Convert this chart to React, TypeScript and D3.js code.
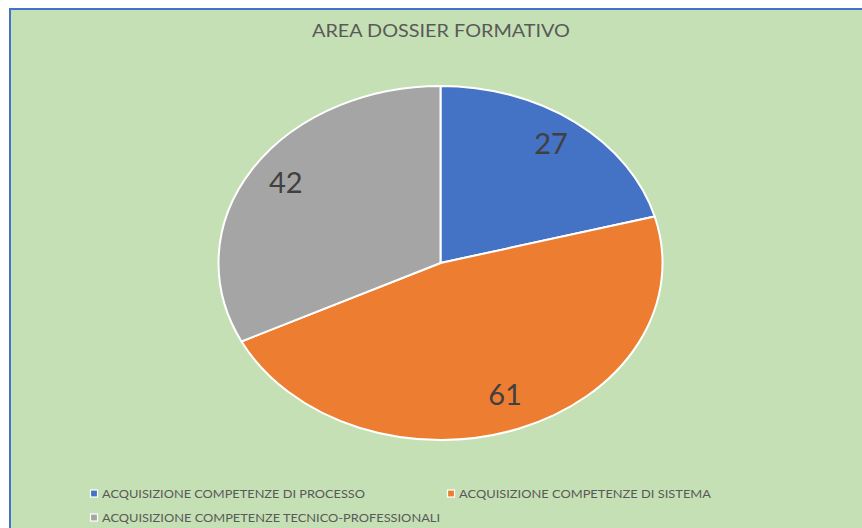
import React from "react";
import * as d3 from "d3";

const categories = [
  "ACQUISIZIONE COMPETENZE DI PROCESSO",
  "ACQUISIZIONE COMPETENZE DI SISTEMA",
  "ACQUISIZIONE COMPETENZE TECNICO-PROFESSIONALI",
];
const values = [27, 61, 42];
const colors = ["#4472C4", "#ED7D31", "#A5A5A5"];
const title = "AREA DOSSIER FORMATIVO";

const W = 862;
const H = 528;
const cx = 440.5;
const cy = 263;
const ry = 177;
const rx = 222;
const sx = rx / ry;
const FONT = "Lato, 'Open Sans', 'Liberation Sans', sans-serif";

export default function App() {
  const pie = d3.pie<number>().sort(null).value((d) => d);
  const arcs = pie(values);
  const arc = d3.arc<d3.PieArcDatum<number>>().innerRadius(0).outerRadius(ry);
  const labelArc = d3
    .arc<d3.PieArcDatum<number>>()
    .innerRadius(ry * 0.82)
    .outerRadius(ry * 0.82);

  const legendPos = [
    { x: 90, y: 494, len: 263 },
    { x: 447, y: 494, len: 252 },
    { x: 90, y: 518, len: 338 },
  ];

  return (
    <svg
      width={W}
      height={H}
      style={{ position: "absolute", left: 0, top: 0, display: "block" }}
    >
      <rect x={0} y={0} width={W} height={H} fill="#ffffff" />
      <rect
        x={10}
        y={9}
        width={W + 20}
        height={H + 20}
        fill="#C5E0B4"
        stroke="#4472C4"
        strokeWidth={2}
      />
      <text
        x={312}
        y={37}
        textLength={258}
        lengthAdjust="spacingAndGlyphs"
        fontFamily={FONT}
        fontSize={17}
        fill="#595959"
      >
        {title}
      </text>
      <g transform={`translate(${cx},${cy}) scale(${sx},1)`}>
        {arcs.map((a, i) => (
          <path
            key={i}
            d={arc(a) || ""}
            fill={colors[i]}
            stroke="#ffffff"
            strokeWidth={2}
            vectorEffect="non-scaling-stroke"
          />
        ))}
      </g>
      {arcs.map((a, i) => {
        const [lx, ly] = labelArc.centroid(a);
        return (
          <text
            key={i}
            x={cx + lx * sx}
            y={cy + ly}
            dy="0.22em"
            textAnchor="middle"
            fontFamily={FONT}
            fontSize={29}
            fill="#404040"
          >
            {values[i]}
          </text>
        );
      })}
      {categories.map((c, i) => (
        <g key={i} transform={`translate(${legendPos[i].x},${legendPos[i].y})`}>
          <rect
            x={0.5}
            y={-4}
            width={7}
            height={7}
            fill={colors[i]}
            stroke="#ffffff"
            strokeWidth={1.2}
          />
          <text
            x={12}
            y={0}
            dy="0.35em"
            textLength={legendPos[i].len}
            lengthAdjust="spacingAndGlyphs"
            fontFamily={FONT}
            fontSize={11}
            fill="#595959"
          >
            {c}
          </text>
        </g>
      ))}
    </svg>
  );
}
